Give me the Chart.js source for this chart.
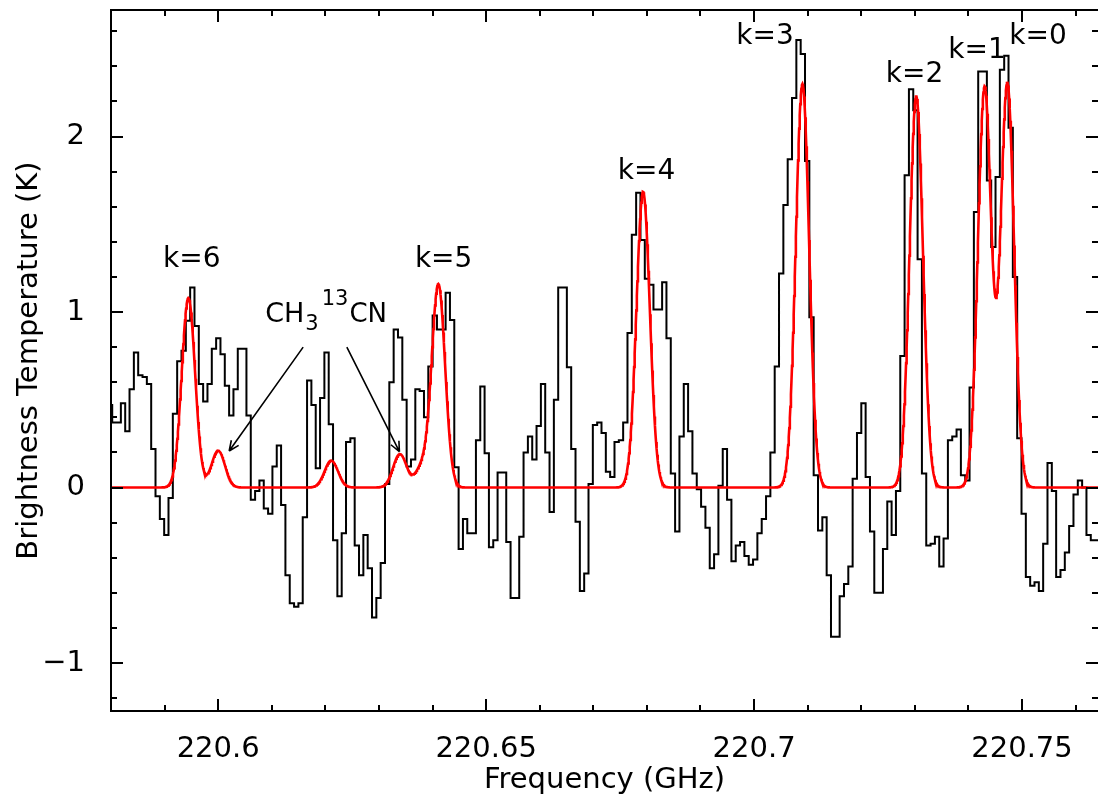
<!DOCTYPE html>
<html>
<head>
<meta charset="utf-8">
<script src="https://cdn.jsdelivr.net/npm/chart.js@4.4.1/dist/chart.umd.min.js"></script>
<style>
html,body{margin:0;padding:0;background:#ffffff;}
#wrap{width:1098px;height:798px;position:relative;}
</style>
</head>
<body>
<div id="wrap"><canvas id="c" width="1098" height="798"></canvas></div>
<script>
// ---------------- data ----------------
// observed spectrum: channel grid (GHz) and brightness temperature per channel (K)
const channelStart = 220.579418;   // left edge of first channel
const channelWidth = 0.000808;     // channel width
const spectrumK = [
  0.10, 0.47, 0.37, 0.37, 0.48, 0.32, 0.56, 0.77, 0.64, 0.63,
  0.59, 0.22, -0.05, -0.18, -0.27, -0.06, 0.42, 0.72, 0.78, 0.95,
  1.14, 0.92, 0.59, 0.49, 0.59, 0.79, 0.85, 0.76, 0.58, 0.41,
  0.56, 0.79, 0.79, 0.41, -0.07, -0.02, 0.04, -0.12, -0.15, 0.12,
  0.24, -0.10, -0.50, -0.66, -0.68, -0.66, -0.17, 0.61, 0.47, 0.11,
  0.51, 0.77, 0.36, -0.30, -0.62, -0.26, 0.26, 0.28, -0.33, -0.50,
  -0.27, -0.46, -0.74, -0.63, -0.43, 0.02, 0.60, 0.90, 0.855, 0.50,
  0.12, 0.16, 0.56, 0.55, 0.40, 0.69, 0.98, 0.90, 0.90, 1.11,
  0.955, 0.115, -0.35, -0.18, -0.26, -0.26, 0.27, 0.575, 0.195, -0.34,
  -0.30, 0.085, 0.085, -0.31, -0.63, -0.63, -0.28, 0.20, 0.29, 0.16,
  0.35, 0.59, 0.20, -0.14, 0.50, 1.14, 1.14, 0.685, 0.22, -0.195,
  -0.59, -0.49, 0.02, 0.356, 0.37, 0.31, 0.09, 0.06, 0.26, 0.27,
  0.37, 0.88, 1.44, 1.68, 1.41, 1.19, 1.155, 1.015, 1.015, 1.17,
  0.85, 0.08, -0.25, 0.29, 0.59, 0.32, 0.08, -0.01, -0.11, -0.23,
  -0.46, -0.38, 0.01, 0.22, -0.07, -0.42, -0.33, -0.31, -0.39, -0.44,
  -0.41, -0.26, -0.18, -0.05, 0.20, 0.69, 1.22, 1.61, 1.87, 2.22,
  2.55, 2.47, 1.86, 0.97, 0.07, -0.245, -0.17, -0.50, -0.85, -0.85,
  -0.62, -0.55, -0.45, 0.05, 0.31, 0.48, 0.06, -0.25, -0.60, -0.60,
  -0.35, -0.08, -0.27, -0.02, 0.75, 1.78, 2.27, 2.15, 1.30, 0.08,
  -0.33, -0.32, -0.28, -0.45, -0.29, 0.27, 0.29, 0.33, 0.07, 0.04,
  0.57, 1.57, 2.37, 2.37, 1.75, 1.37, 1.77, 2.38, 2.46, 2.05,
  1.20, 0.28, -0.15, -0.51, -0.56, -0.54, -0.59, -0.32, 0.14, -0.02,
  -0.51, -0.47, -0.37, -0.22, -0.04, 0.04, 0.00, -0.27, -0.30
];

// Gaussian model (red): line centres (GHz), peak temperatures (K), common sigma (GHz)
const modelFreqs = [220.59444, 220.64109, 220.67929, 220.70902, 220.73026, 220.74301, 220.74726,
                    220.60000, 220.62110, 220.63390, 220.63800];
const modelAmps  = [1.08, 1.155, 1.685, 2.30, 2.23, 2.28, 2.30,
                    0.21, 0.153, 0.19, 0.11];
const modelSigma = 0.00125;

// K-ladder labels (text, frequency, temperature)
const kLabels = ['k=6', 'k=5', 'k=4', 'k=3', 'k=2', 'k=1', 'k=0'];
const kLabelFreqs = [220.59506, 220.64207, 220.67994, 220.70205, 220.72994, 220.74160, 220.75299];
const kLabelTemps = [1.30, 1.30, 1.80, 2.57, 2.35, 2.49, 2.57];

// CH3^13CN label (start frequency, baseline temperature) and arrows [tailF, tailT, tipF, tipT]
const isoLabelPos = [220.60877, 0.943];
const isoArrows = [
  [220.61586, 0.80, 220.60205, 0.208],
  [220.62401, 0.80, 220.63382, 0.204]
];

// axes
const xRange = [220.5800, 220.76418];
const yRange = [-1.2735, 2.721];
const xMajorTicks = [220.60, 220.65, 220.70, 220.75];
const xTickLabels = ['220.6', '220.65', '220.7', '220.75'];
const yMajorTicks = [-1, 0, 1, 2];
const yTickLabels = ['\u22121', '0', '1', '2'];
const xMinorStep = 0.01;
const yMinorStep = 0.2;

// ---------------- build datasets ----------------
const histPoints = spectrumK.map((v, j) => ({x: channelStart + j * channelWidth, y: v}));
histPoints.push({x: channelStart + spectrumK.length * channelWidth, y: spectrumK[spectrumK.length - 1]});

const modelPoints = [];
const nSamp = 1800;
for (let s = 0; s <= nSamp; s++) {
  const f = xRange[0] + (xRange[1] - xRange[0]) * s / nSamp;
  let t = 0;
  for (let k = 0; k < modelFreqs.length; k++) {
    const d = (f - modelFreqs[k]) / modelSigma;
    t += modelAmps[k] * Math.exp(-0.5 * d * d);
  }
  modelPoints.push({x: f, y: t});
}

const FONT = '"DejaVu Sans", Arial, sans-serif';

// ---------------- plugins ----------------
const frameTicks = {
  id: 'frameTicks',
  afterDatasetsDraw(chart) {
    const {ctx, chartArea: a, scales: {x, y}} = chart;
    ctx.save();
    ctx.strokeStyle = '#000';
    ctx.lineWidth = 2;
    ctx.beginPath();
    ctx.moveTo(a.left, a.top); ctx.lineTo(a.right + 2, a.top);
    ctx.moveTo(a.left, a.top - 1); ctx.lineTo(a.left, a.bottom + 1);
    ctx.moveTo(a.left, a.bottom); ctx.lineTo(a.right + 2, a.bottom);
    ctx.moveTo(a.right + 1, a.top); ctx.lineTo(a.right + 1, a.bottom);
    const MAJ = 12, MIN = 6;
    for (let k = Math.ceil(x.min / xMinorStep - 1e-6); k * xMinorStep <= x.max + 1e-9; k++) {
      const v = k * xMinorStep;
      const isMaj = xMajorTicks.some(m => Math.abs(m - v) < 1e-6);
      const L = isMaj ? MAJ : MIN;
      const px = Math.round(x.getPixelForValue(v));
      ctx.moveTo(px, a.bottom); ctx.lineTo(px, a.bottom - L);
      ctx.moveTo(px, a.top); ctx.lineTo(px, a.top + L);
    }
    for (let k = Math.ceil(y.min / yMinorStep - 1e-6); k * yMinorStep <= y.max + 1e-9; k++) {
      const v = k * yMinorStep;
      const isMaj = yMajorTicks.some(m => Math.abs(m - v) < 1e-6);
      const L = isMaj ? MAJ : MIN;
      const py = Math.round(y.getPixelForValue(v));
      ctx.moveTo(a.left, py); ctx.lineTo(a.left + L, py);
      ctx.moveTo(a.right, py); ctx.lineTo(a.right - L, py);
    }
    ctx.stroke();
    ctx.restore();
  }
};

const annotations = {
  id: 'annotations',
  afterDatasetsDraw(chart) {
    const {ctx, scales: {x, y}} = chart;
    ctx.save();
    ctx.fillStyle = '#000';
    ctx.strokeStyle = '#000';
    // k labels
    ctx.font = '28px ' + FONT;
    ctx.textAlign = 'center';
    ctx.textBaseline = 'middle';
    kLabels.forEach((t, i) => {
      ctx.fillText(t, x.getPixelForValue(kLabelFreqs[i]), y.getPixelForValue(kLabelTemps[i]));
    });
    // CH3^13CN
    ctx.textAlign = 'left';
    ctx.textBaseline = 'alphabetic';
    let cx = x.getPixelForValue(isoLabelPos[0]);
    const by = y.getPixelForValue(isoLabelPos[1]);
    const parts = [
      {t: 'CH', size: 27, dy: 0, gap: 1},
      {t: '3', size: 21, dy: 8, gap: 3},
      {t: '13', size: 21, dy: -17, gap: 1},
      {t: 'CN', size: 26, dy: 0, gap: 0}
    ];
    parts.forEach(p => {
      ctx.font = p.size + 'px ' + FONT;
      ctx.fillText(p.t, cx, by + p.dy);
      cx += ctx.measureText(p.t).width + p.gap;
    });
    // arrows
    ctx.lineWidth = 1.6;
    isoArrows.forEach(ar => {
      const x0 = x.getPixelForValue(ar[0]), y0 = y.getPixelForValue(ar[1]);
      const x1 = x.getPixelForValue(ar[2]), y1 = y.getPixelForValue(ar[3]);
      ctx.beginPath();
      ctx.moveTo(x0, y0); ctx.lineTo(x1, y1);
      const ang = Math.atan2(y1 - y0, x1 - x0);
      const hl = 11, ha = 0.42;
      ctx.moveTo(x1, y1); ctx.lineTo(x1 - hl * Math.cos(ang - ha), y1 - hl * Math.sin(ang - ha));
      ctx.moveTo(x1, y1); ctx.lineTo(x1 - hl * Math.cos(ang + ha), y1 - hl * Math.sin(ang + ha));
      ctx.stroke();
    });
    ctx.restore();
  }
};

// ---------------- chart ----------------
new Chart(document.getElementById('c'), {
  type: 'scatter',
  data: {
    datasets: [
      {
        label: 'model',
        data: modelPoints,
        showLine: true,
        borderColor: '#ff0000',
        borderWidth: 2.6,
        pointRadius: 0,
        tension: 0,
        fill: false
      },
      {
        label: 'spectrum',
        data: histPoints,
        showLine: true,
        stepped: 'after',
        borderColor: '#000000',
        borderWidth: 2,
        pointRadius: 0,
        fill: false
      }
    ]
  },
  options: {
    responsive: false,
    animation: false,
    devicePixelRatio: 1,
    layout: {padding: {left: 0, right: 0, top: 10, bottom: 0}},
    plugins: {legend: {display: false}, tooltip: {enabled: false}},
    scales: {
      x: {
        type: 'linear',
        min: xRange[0],
        max: xRange[1],
        afterFit: s => { s.height = 87; s.paddingLeft = 0; s.paddingRight = 0; },
        afterBuildTicks: s => { s.ticks = xMajorTicks.map(v => ({value: v})); },
        grid: {display: false},
        border: {display: false},
        ticks: {
          autoSkip: false, maxRotation: 0, padding: 13,
          color: '#000', font: {family: FONT, size: 29},
          callback: (v) => { const i = xMajorTicks.findIndex(m => Math.abs(m - v) < 1e-6); return i >= 0 ? xTickLabels[i] : ''; }
        },
        title: {display: true, text: 'Frequency (GHz)', color: '#000',
                font: {family: FONT, size: 29}, padding: {top: 0, bottom: 0}}
      },
      y: {
        type: 'linear',
        min: yRange[0],
        max: yRange[1],
        afterFit: s => { s.width = 111; s.paddingTop = 0; s.paddingBottom = 0; },
        afterBuildTicks: s => { s.ticks = yMajorTicks.map(v => ({value: v})); },
        grid: {display: false},
        border: {display: false},
        ticks: {
          autoSkip: false, padding: 18,
          color: '#000', font: {family: FONT, size: 29},
          callback: (v) => { const i = yMajorTicks.findIndex(m => Math.abs(m - v) < 1e-6); return i >= 0 ? yTickLabels[i] : ''; }
        },
        title: {display: true, text: 'Brightness Temperature (K)', color: '#000',
                font: {family: FONT, size: 29}, padding: {top: 12, bottom: 0}}
      }
    }
  },
  plugins: [frameTicks, annotations]
});
</script>
</body>
</html>
